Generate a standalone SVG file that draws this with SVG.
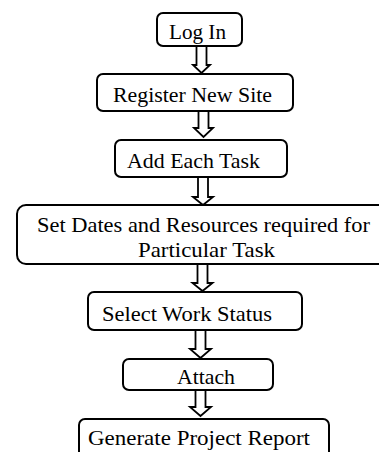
<svg xmlns="http://www.w3.org/2000/svg" width="379" height="452" viewBox="0 0 379 452">
<style>
.box{fill:#fff;stroke:#000;stroke-width:2}
.arr{fill:#fff;stroke:#000;stroke-width:1.8;stroke-linejoin:miter}
text{font-family:"Liberation Serif","Times New Roman",serif;font-size:21.5px;fill:#000}
</style>
<rect width="379" height="452" fill="#fff"/>
<g id="connectors">
<polygon class="arr" points="196.5,46 206.5,46 206.5,65 210,65 201.5,73 193,65 196.5,65"/>
<polygon class="arr" points="198.5,111 208.5,111 208.5,128 213,128 203.5,137 194,128 198.5,128"/>
<polygon class="arr" points="198,177 208,177 208,197 213,197 203,205 193,197 198,197"/>
<polygon class="arr" points="197.5,264 207.5,264 207.5,283 212.5,283 202.5,291 192.5,283 197.5,283"/>
<polygon class="arr" points="195.5,330 205.5,330 205.5,349 211,349 200.5,358 190,349 195.5,349"/>
<polygon class="arr" points="195.5,390 205.5,390 205.5,407 211,407 200.5,416 190,407 195.5,407"/>
</g>
<g id="login">
<rect class="box" x="157" y="13" width="85" height="33" rx="6"/>
<text x="169" y="39" textLength="57" lengthAdjust="spacingAndGlyphs">Log In</text>
</g>
<g id="register">
<rect class="box" x="97" y="74" width="196" height="37" rx="6"/>
<text x="113" y="102" textLength="159" lengthAdjust="spacingAndGlyphs">Register New Site</text>
</g>
<g id="addtask">
<rect class="box" x="115" y="140" width="172" height="37" rx="6"/>
<text x="127" y="168" textLength="133" lengthAdjust="spacingAndGlyphs">Add Each Task</text>
</g>
<g id="setdates">
<rect class="box" x="17" y="205" width="380" height="59" rx="9"/>
<text x="37" y="232" textLength="333" lengthAdjust="spacingAndGlyphs">Set Dates and Resources required for</text>
<text x="138" y="257" textLength="137" lengthAdjust="spacingAndGlyphs">Particular Task</text>
</g>
<g id="workstatus">
<rect class="box" x="88" y="292" width="214" height="38" rx="6"/>
<text x="102" y="321" textLength="170" lengthAdjust="spacingAndGlyphs">Select Work Status</text>
</g>
<g id="attach">
<rect class="box" x="123" y="359" width="150" height="31" rx="6"/>
<text x="177" y="384" textLength="58" lengthAdjust="spacingAndGlyphs">Attach</text>
</g>
<g id="report">
<rect class="box" x="79" y="419" width="250" height="50" rx="6"/>
<text x="88" y="445" textLength="222" lengthAdjust="spacingAndGlyphs">Generate Project Report</text>
</g>
</svg>
